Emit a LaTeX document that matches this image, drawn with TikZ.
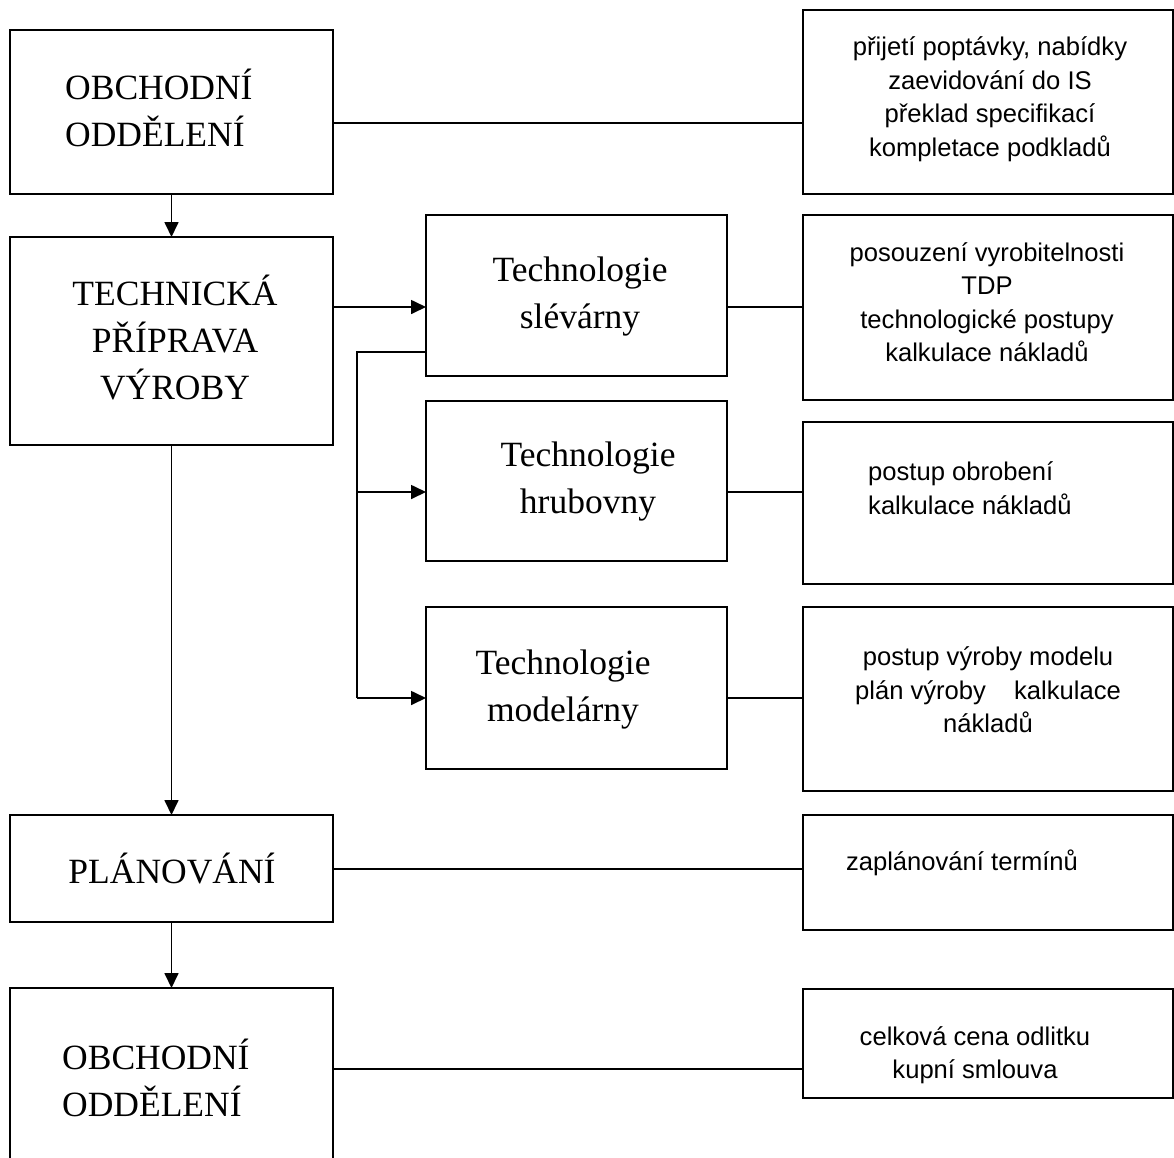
\documentclass[tikz,border=0pt]{standalone}
\usepackage{fontspec}
\setmainfont{Liberation Serif}
\newfontfamily\sansf{Liberation Sans}
\usetikzlibrary{arrows.meta}
\tikzset{
  box/.style={draw, line width=1.7pt, anchor=north west, inner sep=0pt, outer sep=0pt},
  lt/.style={font=\fontsize{35.5}{47}\selectfont, inner sep=0pt, align=center},
  rt/.style={font=\sansf\fontsize{25.6}{33.5}\selectfont, inner sep=0pt, align=center},
  conn/.style={line width=1.7pt},
  arr/.style={line width=1.7pt, -{Triangle[length=15pt,width=14pt]}}
}
\begin{document}
\begin{tikzpicture}[x=1pt,y=-1pt]
\useasboundingbox[fill=white] (0,0) rectangle (1174,1157);
% boxes
\node[box, minimum width=323pt, minimum height=164pt] (A) at (10,30) {};
\node[box, minimum width=370pt, minimum height=184pt] (R1) at (803,10) {};
\node[box, minimum width=323pt, minimum height=208pt] (B) at (10,237) {};
\node[box, minimum width=301pt, minimum height=161pt] (T1) at (426,215) {};
\node[box, minimum width=370pt, minimum height=185pt] (R2) at (803,215) {};
\node[box, minimum width=301pt, minimum height=160pt] (T2) at (426,401) {};
\node[box, minimum width=370pt, minimum height=162pt] (R3) at (803,422) {};
\node[box, minimum width=301pt, minimum height=162pt] (T3) at (426,607) {};
\node[box, minimum width=370pt, minimum height=184pt] (R4) at (803,607) {};
\node[box, minimum width=323pt, minimum height=107pt] (P) at (10,815) {};
\node[box, minimum width=370pt, minimum height=115pt] (R5) at (803,815) {};
\node[box, minimum width=323pt, minimum height=200pt] (C) at (10,988) {};
\node[box, minimum width=370pt, minimum height=109pt] (R6) at (803,989) {};
% texts
\node[lt, align=left, anchor=west] (tA) at (65,108) {OBCHODNÍ\\ODDĚLENÍ};
\node[lt] (tB) at (175,338) {TECHNICKÁ\\PŘÍPRAVA\\VÝROBY};
\node[lt] (tT1) at (580,297) {Technologie\\slévárny};
\node[lt] (tT2) at (588,482) {Technologie\\hrubovny};
\node[lt] (tT3) at (563,689) {Technologie\\modelárny};
\node[lt] (tP) at (172,869) {PLÁNOVÁNÍ};
\node[lt, align=left, anchor=west] (tC) at (62,1078) {OBCHODNÍ\\ODDĚLENÍ};
\node[rt] (tR1) at (990,99) {přijetí poptávky, nabídky\\zaevidování do IS\\překlad specifikací\\kompletace podkladů};
\node[rt] (tR2) at (987,302) {posouzení vyrobitelnosti\\TDP\\technologické postupy\\kalkulace nákladů};
\node[rt, align=left, anchor=west] (tR3) at (868,488) {postup obrobení\\kalkulace nákladů};
\node[rt] (tR4) at (988,690) {postup výroby modelu\\plán výroby\hspace{21pt} kalkulace\\nákladů};
\node[rt] (tR5) at (962,863) {zaplánování termínů};
\node[rt] (tR6) at (975,1055) {celková cena odlitku\\kupní smlouva};
% branch coordinates
\coordinate (br1) at (357,352);
\coordinate (br2) at (357,492);
\coordinate (br3) at (357,698);
% connectors
\draw[arr] (A.south) -- (B.north);
\draw[arr] (B.south) -- (P.north);
\draw[arr] (P.south) -- (C.north);
\draw[conn] (A.east |- 0,123) -- (R1.west |- 0,123);
\draw[arr] (B.east |- 0,307) -- (T1.west |- 0,307);
\draw[conn] (T1.east |- 0,307) -- (R2.west |- 0,307);
\draw[conn] (T2.east |- 0,492) -- (R3.west |- 0,492);
\draw[conn] (T3.east |- 0,698) -- (R4.west |- 0,698);
\draw[conn] (P.east |- 0,869) -- (R5.west |- 0,869);
\draw[conn] (C.east |- 0,1069) -- (R6.west |- 0,1069);
\draw[conn] (T1.west |- br1) -- (br1) -- (br3);
\draw[arr] (br2) -- (T2.west |- br2);
\draw[arr] (br3) -- (T3.west |- br3);
\end{tikzpicture}
\end{document}
